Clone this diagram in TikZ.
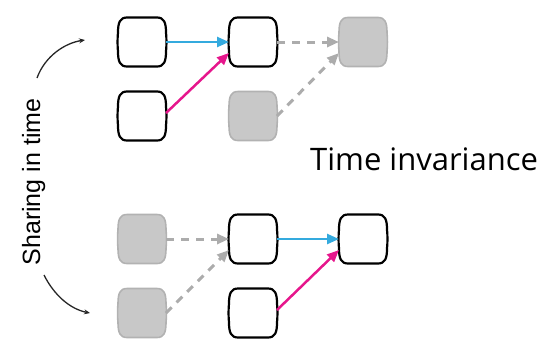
\documentclass[tikz,border=0pt]{standalone}
\usepackage{fontspec}
\usetikzlibrary{arrows.meta,calc}
\newfontfamily\labelfont{Liberation Sans}
\newfontfamily\titlefont{Open Sans}
\definecolor{linkblue}{RGB}{52,170,222}
\definecolor{linkpink}{RGB}{230,22,140}
\definecolor{ghostfill}{RGB}{200,200,200}
\definecolor{ghostline}{RGB}{178,178,178}
\definecolor{ghostarrow}{RGB}{172,172,172}
% a placeholder node plus its barrel-shaped outline: #1 style, #2 name, #3 centre
\newcommand\barrelcell[3]{%
  \node[cellbase] (#2) at (#3) {};
  \draw[#1] ($(#2.north west)+(9,0)$) -- ($(#2.north east)+(-9,0)$)
    .. controls ($(#2.north east)+(-2,0)$) and ($(#2.north east)+(0,5)$) .. ($(#2.north east)+(0,15)$)
    .. controls ($(#2.east)+(0.6,-4)$) and ($(#2.east)+(0.6,4)$) .. ($(#2.south east)+(0,-15)$)
    .. controls ($(#2.south east)+(0,-5)$) and ($(#2.south east)+(-2,0)$) .. ($(#2.south east)+(-9,0)$)
    -- ($(#2.south west)+(9,0)$)
    .. controls ($(#2.south west)+(2,0)$) and ($(#2.south west)+(0,-5)$) .. ($(#2.south west)+(0,-15)$)
    .. controls ($(#2.west)+(-0.6,4)$) and ($(#2.west)+(-0.6,-4)$) .. ($(#2.north west)+(0,15)$)
    .. controls ($(#2.north west)+(0,5)$) and ($(#2.north west)+(2,0)$) .. ($(#2.north west)+(9,0)$)
    -- cycle;}
\begin{document}
\begin{tikzpicture}[x=1bp,y=-1bp,
  cellbase/.style={minimum width=48bp, minimum height=49bp, inner sep=0pt, outer sep=0pt},
  cell/.style={draw=black, line width=2.2bp, fill=white},
  ghost/.style={draw=ghostline, line width=1.6bp, fill=ghostfill},
  blueedge/.style={draw=linkblue, line width=2.5bp, -{Triangle[length=12bp,width=10bp]}},
  pinkedge/.style={draw=linkpink, line width=2.5bp, -{Triangle[length=12bp,width=10bp]}},
  ghostedge/.style={draw=ghostarrow, line width=3bp, dash pattern=on 8bp off 7bp, -{Triangle[length=12bp,width=10bp]}},
  sweep/.style={draw=black!85, line width=1.3bp, -{Stealth[length=6bp,width=5bp]}}
]
\useasboundingbox (0,0) rectangle (558,339);

% upper group: step t
\barrelcell{cell}{a1}{142,42}
\barrelcell{cell}{a2}{253,42}
\barrelcell{ghost}{a3}{363,42}
\barrelcell{cell}{b1}{142,116}
\barrelcell{ghost}{b2}{253,116}

% lower group: step t+1
\barrelcell{ghost}{c1}{142,239}
\barrelcell{cell}{c2}{253,239}
\barrelcell{cell}{c3}{363,239}
\barrelcell{ghost}{d1}{142,313}
\barrelcell{cell}{d2}{253,313}

% connections, upper group
\draw[blueedge]  (a1.east) -- (a2.west);
\draw[pinkedge]  ($(b1.east)+(0,-3)$) -- ($(a2.west)+(0,11)$);
\draw[ghostedge] (a2.east) -- (a3.west);
\draw[ghostedge] (b2.east) -- ($(a3.west)+(0,11)$);

% connections, lower group
\draw[ghostedge] (c1.east) -- (c2.west);
\draw[ghostedge] (d1.east) -- ($(c2.west)+(0,11)$);
\draw[blueedge]  (c2.east) -- (c3.west);
\draw[pinkedge]  ($(d2.east)+(0,-3)$) -- ($(c3.west)+(0,11)$);

% side label and sweeping arrows
\node[rotate=90, anchor=base, inner sep=0pt, font=\labelfont\fontsize{25bp}{30bp}\selectfont]
  (share) at (40,182) {Sharing in time};
\coordinate (up0) at (37,78);
\coordinate (up1) at (85,40);
\coordinate (dn0) at (44,275);
\coordinate (dn1) at (90,313);
\draw[sweep] (up0) .. controls (45,56) and (65,43) .. (up1);
\draw[sweep] (dn0) .. controls (54,295) and (70,309) .. (dn1);

% right label
\node[anchor=base west, inner sep=0pt, font=\titlefont\fontsize{31bp}{37bp}\selectfont]
  (inv) at (310,170) {Time invariance};
\end{tikzpicture}
\end{document}
